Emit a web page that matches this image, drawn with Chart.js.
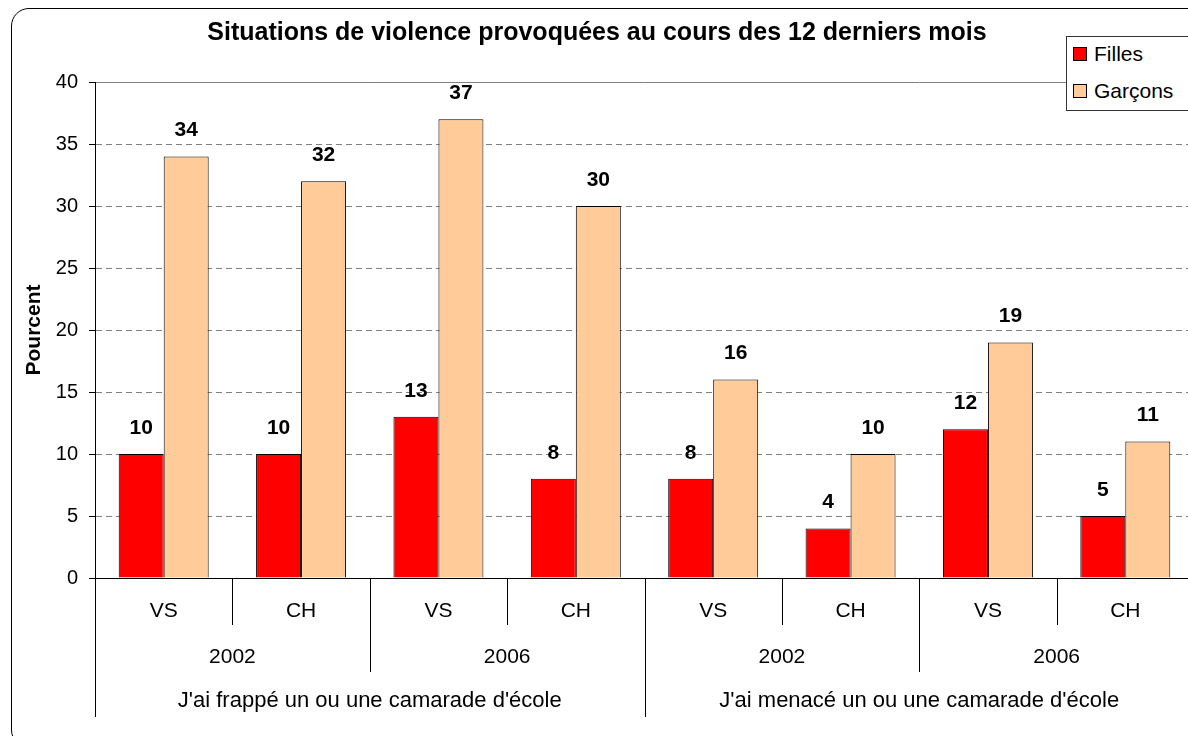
<!DOCTYPE html>
<html>
<head>
<meta charset="utf-8">
<script src="https://cdn.jsdelivr.net/npm/chart.js@4.4.0/dist/chart.umd.min.js"></script>
<style>
  html,body{margin:0;padding:0;background:#fff;overflow:hidden;width:1188px;height:736px}
  #wrap{position:relative;width:1188px;height:736px;overflow:hidden}
  #frame{position:absolute;left:11px;top:8px;width:1220px;height:740px;border:1px solid #000;border-radius:18px;box-sizing:border-box}
  canvas{position:absolute;left:0;top:0}
  #legend{position:absolute;left:1066px;top:36px;width:140px;height:75px;border:1px solid #333;background:#fff;box-sizing:border-box;font-family:Arial,"Liberation Sans",sans-serif;font-size:21px;color:#000}
  #legend .item{position:absolute;left:6px;height:24px;line-height:24px;display:flex;align-items:center}
  #legend .sw{width:12px;height:12px;border:1px solid #000;margin-right:7px}
</style>
</head>
<body>
<div id="wrap">
  <div id="frame"></div>
  <canvas id="chart" width="1210" height="736"></canvas>
  <div id="legend"></div>
</div>
<script>
// données
const regions = ['VS','CH','VS','CH','VS','CH','VS','CH'];
const years = ['2002','2006','2002','2006'];
const groups = ["J'ai frappé un ou une camarade d'école", "J'ai menacé un ou une camarade d'école"];
const filles = [10,10,13,8,8,4,12,5];
const garcons = [34,32,37,30,16,10,19,11];
const yTicks = [0,5,10,15,20,25,30,35,40];

const FONT = 'Arial, "Liberation Sans", sans-serif';

// legende HTML (posee sur le graphique comme dans Excel)
const legendItems = [{label:'Filles',color:'#FF0000'},{label:'Garçons',color:'#FFCC99'}];
const legendEl = document.getElementById('legend');
legendItems.forEach((it,i)=>{
  const d = document.createElement('div');
  d.className = 'item';
  d.style.top = (5 + i*37) + 'px';
  const sw = document.createElement('span');
  sw.className = 'sw';
  sw.style.background = it.color;
  const tx = document.createElement('span');
  tx.textContent = it.label;
  d.appendChild(sw); d.appendChild(tx);
  legendEl.appendChild(d);
});

// axe des categories a plusieurs niveaux + cadre de la zone de tracage
const multiAxis = {
  id:'multiAxis',
  afterDraw(chart){
    const ctx = chart.ctx;
    const x = chart.scales.x;
    const area = chart.chartArea;
    const n = regions.length;
    const px = i => x.getPixelForValue(i);
    const step = px(1) - px(0);
    const edge = k => px(0) - step/2 + k*step;
    ctx.save();
    ctx.setLineDash([]);
    // cadre gris haut/droite
    ctx.strokeStyle = '#808080';
    ctx.lineWidth = 1;
    ctx.beginPath();
    ctx.moveTo(area.left, Math.round(area.top) + 0.5);
    ctx.lineTo(area.right + 0.5, Math.round(area.top) + 0.5);
    ctx.lineTo(area.right + 0.5, area.bottom);
    ctx.stroke();
    // axe vertical plein
    ctx.strokeStyle = '#000';
    ctx.beginPath();
    ctx.moveTo(Math.round(area.left) + 0.5, area.top);
    ctx.lineTo(Math.round(area.left) + 0.5, area.bottom);
    ctx.stroke();
    // separateurs
    for(let k=0;k<=n;k++){
      let len = 47;
      if(k % 4 === 0) len = 139;
      else if(k % 2 === 0) len = 94;
      const xx = Math.round(edge(k)) + 0.5;
      ctx.beginPath();
      ctx.moveTo(xx, area.bottom);
      ctx.lineTo(xx, area.bottom + len);
      ctx.stroke();
    }
    // niveaux 2 et 3
    ctx.fillStyle = '#000';
    ctx.textAlign = 'center';
    ctx.textBaseline = 'middle';
    ctx.font = '21px ' + FONT;
    years.forEach((y,i)=>{
      const c = (px(2*i) + px(2*i+1))/2;
      ctx.fillText(y, c, area.bottom + 79);
    });
    ctx.font = '22px ' + FONT;
    groups.forEach((g,i)=>{
      const c = (px(4*i) + px(4*i+3))/2;
      ctx.fillText(g, c, area.bottom + 123);
    });
    ctx.restore();
  }
};

// valeurs au-dessus des barres
const barValues = {
  id:'barValues',
  afterDatasetsDraw(chart){
    const ctx = chart.ctx;
    ctx.save();
    ctx.font = 'bold 21px ' + FONT;
    ctx.fillStyle = '#000';
    ctx.textAlign = 'center';
    ctx.textBaseline = 'middle';
    chart.data.datasets.forEach((ds,di)=>{
      chart.getDatasetMeta(di).data.forEach((bar,i)=>{
        ctx.fillText(String(ds.data[i]), bar.x, bar.y - 26);
      });
    });
    ctx.restore();
  }
};

new Chart(document.getElementById('chart').getContext('2d'),{
  type:'bar',
  data:{
    labels:regions,
    datasets:[
      {label:'Filles',data:filles,backgroundColor:'#FF0000',borderColor:'#000',borderWidth:1},
      {label:'Garçons',data:garcons,backgroundColor:'#FFCC99',borderColor:'#000',borderWidth:1}
    ]
  },
  options:{
    responsive:false,
    animation:false,
    devicePixelRatio:1,
    layout:{padding:{left:0,right:16,top:0,bottom:0}},
    datasets:{bar:{barPercentage:1,categoryPercentage:0.655}},
    plugins:{
      legend:{display:false},
      tooltip:{enabled:false},
      title:{
        display:true,
        text:'Situations de violence provoquées au cours des 12 derniers mois',
        color:'#000',
        font:{family:FONT,size:25,weight:'bold'},
        padding:{top:18,bottom:34}
      }
    },
    scales:{
      x:{
        grid:{display:false,drawTicks:false},
        border:{color:'#000'},
        ticks:{color:'#000',font:{family:FONT,size:21},padding:21,maxRotation:0},
        afterFit(s){ s.height = 158; }
      },
      y:{
        min:0,max:40,
        afterBuildTicks(s){ s.ticks = yTicks.map(v=>({value:v})); },
        grid:{
          color:c => (c.tick && c.tick.value === 40) ? 'rgba(0,0,0,0)' : '#808080',
          tickLength:6,tickColor:'#000',tickBorderDash:[1,0]
        },
        border:{color:'#000',dash:[6,4]},
        ticks:{color:'#000',font:{family:FONT,size:20},padding:11},
        title:{display:true,text:'Pourcent',color:'#000',font:{family:FONT,size:21,weight:'bold'},padding:{top:22,bottom:0}},
        afterFit(s){ s.width = 95; }
      }
    }
  },
  plugins:[multiAxis,barValues]
});
</script>
</body>
</html>
